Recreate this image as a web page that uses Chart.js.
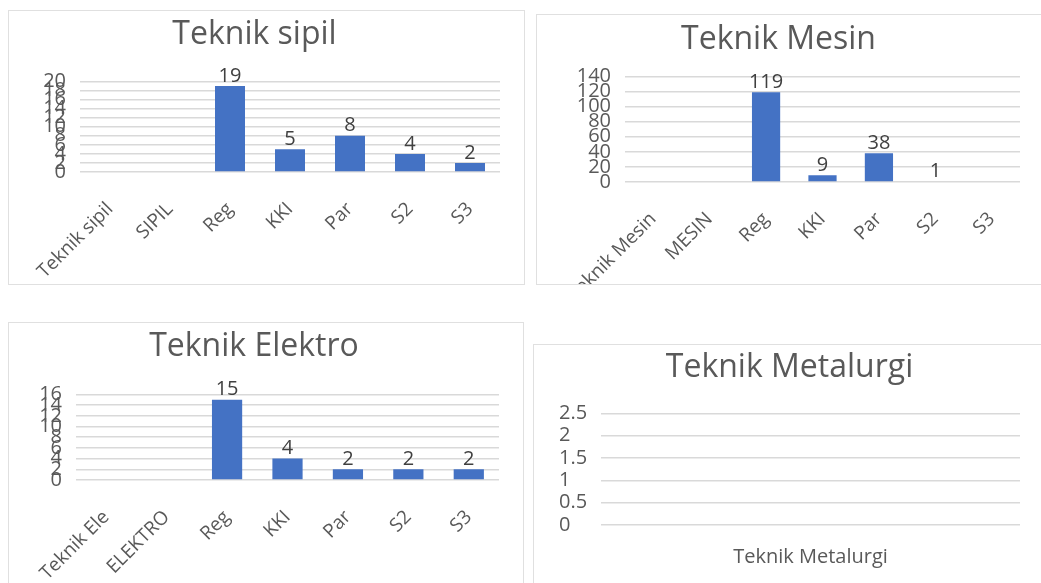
<!DOCTYPE html>
<html lang="id">
<head>
    <meta charset="UTF-8">
    <title>Teknik</title>
    <style>
        body {
            margin: 0;
            padding: 0;
            background: #fff;
            width: 1041px;
            height: 583px;
            overflow: hidden;
            position: relative;
            font-family: 'Open Sans', sans-serif;
        }
        .box {
            position: absolute;
            border: 1px solid #e0e0e0;
            background: #fff;
            overflow: hidden;
        }
        .box .wrap {
            position: relative;
        }
    </style>
</head>
<body>

    <div class="box" style="left:8px; top:10px; width:515px; height:273px;">
        <div class="wrap" style="width:515px; height:273px;"><canvas id="sipilChart"></canvas></div>
    </div>
    <div class="box" style="left:536px; top:14px; width:520px; height:269px;">
        <div class="wrap" style="width:504px; height:269px;"><canvas id="mesinChart"></canvas></div>
    </div>
    <div class="box" style="left:8px; top:322px; width:514px; height:280px;">
        <div class="wrap" style="width:514px; height:260px;"><canvas id="elektroChart"></canvas></div>
    </div>
    <div class="box" style="left:533px; top:344px; width:520px; height:260px;">
        <div class="wrap" style="width:507px; height:238px;"><canvas id="metalurgiChart"></canvas></div>
    </div>

    <script src="https://cdn.jsdelivr.net/npm/chart.js"></script>
    <script>
        // data
        const sipilLabels = ['Teknik sipil', 'SIPIL', 'Reg', 'KKI', 'Par', 'S2', 'S3'];
        const sipilValues = [null, null, 19, 5, 8, 4, 2];

        const mesinLabels = ['Teknik Mesin', 'MESIN', 'Reg', 'KKI', 'Par', 'S2', 'S3'];
        const mesinValues = [null, null, 119, 9, 38, 1, null];

        const elektroLabels = ['Teknik Elektro', 'ELEKTRO', 'Reg', 'KKI', 'Par', 'S2', 'S3'];
        const elektroValues = [null, null, 15, 4, 2, 2, 2];

        const metalurgiLabels = ['Teknik Metalurgi'];
        const metalurgiValues = [null];

        const textColor = '#595959';
        const barColor = '#4472C4';
        const gridColor = '#d9d9d9';

        // number above each bar
        const valueLabels = {
            id: 'valueLabels',
            afterDatasetsDraw(chart) {
                const ctx = chart.ctx;
                chart.data.datasets.forEach((ds, i) => {
                    chart.getDatasetMeta(i).data.forEach((bar, j) => {
                        const v = ds.data[j];
                        if (v === null || v === undefined) return;
                        ctx.save();
                        ctx.font = '20px "Open Sans"';
                        ctx.fillStyle = '#404040';
                        ctx.textAlign = 'center';
                        ctx.textBaseline = 'bottom';
                        ctx.fillText(v, bar.x, bar.y);
                        ctx.restore();
                    });
                });
            }
        };

        function makeChart(id, title, labels, values, cfg) {
            const rotated = cfg.rotated !== false;
            return new Chart(document.getElementById(id), {
                type: 'bar',
                data: {
                    labels: labels,
                    datasets: [{
                        data: values,
                        backgroundColor: barColor,
                        barPercentage: 0.5,
                        categoryPercentage: 1
                    }]
                },
                options: {
                    responsive: true,
                    maintainAspectRatio: false,
                    animation: false,
                    layout: { padding: { left: cfg.padLeft || 0, right: cfg.padRight, top: 0, bottom: 0 } },
                    plugins: {
                        legend: { display: false },
                        tooltip: { enabled: false },
                        title: {
                            display: true,
                            text: title,
                            color: textColor,
                            font: { family: 'Open Sans', size: 32, weight: 'normal' },
                            padding: { top: cfg.titleTop, bottom: cfg.titleBottom }
                        }
                    },
                    scales: {
                        x: {
                            grid: { display: false },
                            border: { display: false },
                            ticks: {
                                color: textColor,
                                font: { family: 'Open Sans', size: rotated ? 19 : 20 },
                                autoSkip: false,
                                minRotation: rotated ? 45 : 0,
                                maxRotation: rotated ? 45 : 0,
                                padding: cfg.xPad,
                                // excel cut the long category name in the elektro chart
                                callback: function (val) {
                                    const l = this.getLabelForValue(val);
                                    return cfg.maxLen && l.length > cfg.maxLen ? l.slice(0, cfg.maxLen) : l;
                                }
                            },
                            afterFit: s => { s.height = cfg.xHeight; }
                        },
                        y: {
                            min: 0,
                            max: cfg.max,
                            grid: { color: gridColor, lineWidth: 1.5, drawTicks: false },
                            border: { display: false },
                            ticks: {
                                stepSize: cfg.step,
                                autoSkip: false,
                                color: textColor,
                                font: { family: 'Open Sans', size: 20 },
                                padding: cfg.yPad,
                                crossAlign: cfg.crossAlign || 'near',
                                callback: v => String(v)
                            },
                            afterFit: s => { s.width = cfg.yWidth; }
                        }
                    }
                },
                plugins: [valueLabels]
            });
        }

        makeChart('sipilChart', 'Teknik sipil', sipilLabels, sipilValues, {
            max: 20, step: 2, yWidth: 71, yPad: 14, padRight: 24,
            xHeight: 112, xPad: 18, titleTop: 5, titleBottom: 27
        });
        makeChart('mesinChart', 'Teknik Mesin', mesinLabels, mesinValues, {
            max: 140, step: 20, yWidth: 88, yPad: 14, padRight: 21,
            xHeight: 102, xPad: 18, titleTop: 6, titleBottom: 17
        });
        makeChart('elektroChart', 'Teknik Elektro', elektroLabels, elektroValues, {
            max: 16, step: 2, yWidth: 67, yPad: 14, padRight: 24,
            xHeight: 103, xPad: 18, titleTop: 5, titleBottom: 28, maxLen: 10
        });
        makeChart('metalurgiChart', 'Teknik Metalurgi', metalurgiLabels, metalurgiValues, {
            max: 2.5, step: 0.5, yWidth: 42, yPad: 0, padLeft: 25, padRight: 21,
            xHeight: 58, xPad: 12, titleTop: 4, titleBottom: 26,
            rotated: false, crossAlign: 'far'
        });
    </script>
</body>
</html>
